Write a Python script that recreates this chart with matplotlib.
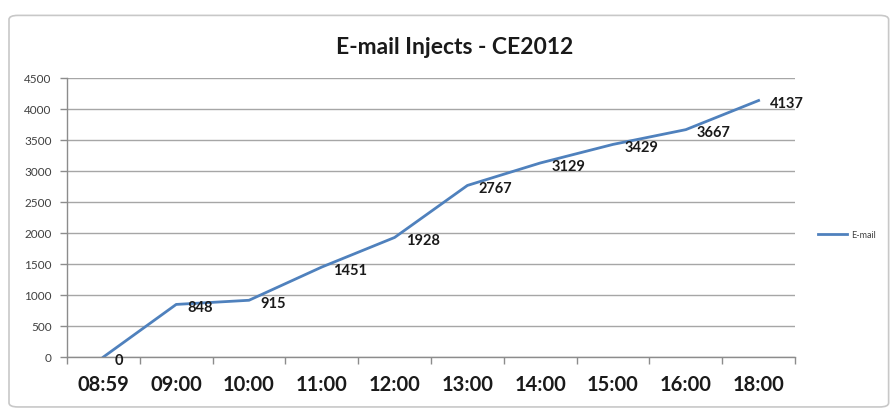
import matplotlib.pyplot as plt
from matplotlib.patches import FancyBboxPatch
import numpy as np

# Data
times = ["08:59", "09:00", "10:00", "11:00", "12:00", "13:00", "14:00", "15:00", "16:00", "18:00"]
injects = [0, 848, 915, 1451, 1928, 2767, 3129, 3429, 3667, 4137]
y_ticks = [0, 500, 1000, 1500, 2000, 2500, 3000, 3500, 4000, 4500]

plt.rcParams['font.family'] = ['Lato', 'DejaVu Sans']

fig = plt.figure(figsize=(8.93, 4.10), dpi=100)

# chart frame like the Excel chart area (kept behind the axes)
frame = FancyBboxPatch((9 / 893, 0.005), 0.985, 0.955, boxstyle="round,pad=0,rounding_size=0.01",
                       transform=fig.transFigure, facecolor='white', edgecolor='#c8c8c8',
                       linewidth=1.2, zorder=-10)
fig.patches.append(frame)

ax = fig.add_axes([67 / 893, 1 - 358 / 410, (795 - 67) / 893, (358 - 79) / 410])
ax.set_zorder(5)
ax.set_facecolor('none')

x = np.arange(len(times))
line, = ax.plot(x, injects, color='#4F81BD', linewidth=2.0, label='E-mail')

# data labels to the right of each point
for xi, yi in zip(x, injects):
    ax.annotate(str(yi), (xi, yi), xytext=(8, -2), textcoords='offset points',
                ha='left', va='center', fontsize=10.5, fontweight='bold', color='#1a1a1a')

ax.set_xlim(-0.5, len(times) - 0.5)
ax.set_ylim(0, 4500)
ax.set_yticks(y_ticks)
ax.set_yticklabels([str(v) for v in y_ticks], fontsize=8.5, color='#404040')
ax.set_xticks(x)
ax.set_xticklabels(times, fontsize=14.5, fontweight='bold', color='#1a1a1a')
ax.set_xticks(np.arange(len(times) + 1) - 0.5, minor=True)
ax.tick_params(axis='x', which='major', length=0, pad=12)
ax.tick_params(axis='x', which='minor', length=5, color='#8c8c8c', width=1)
ax.tick_params(axis='y', length=5, color='#8c8c8c', width=1, pad=6)

ax.grid(True, axis='y', color='#a6a6a6', linewidth=1)
ax.set_axisbelow(True)
for side in ['top', 'right']:
    ax.spines[side].set_visible(False)
for side in ['left', 'bottom']:
    ax.spines[side].set_color('#8c8c8c')
    ax.spines[side].set_linewidth(1)

# Title
fig.text(455 / 893, 1 - 47 / 410, "E-mail Injects - CE2012", ha='center', va='center',
         fontsize=16.5, fontweight='bold', color='#1a1a1a')

# Legend
fig.legend(handles=[line], loc='center left', bbox_to_anchor=(810 / 893, 1 - 236 / 410),
           frameon=False, fontsize=6.5, labelcolor='#404040', handlelength=3.2, handletextpad=0.4)

plt.savefig('out.png', dpi=100)
